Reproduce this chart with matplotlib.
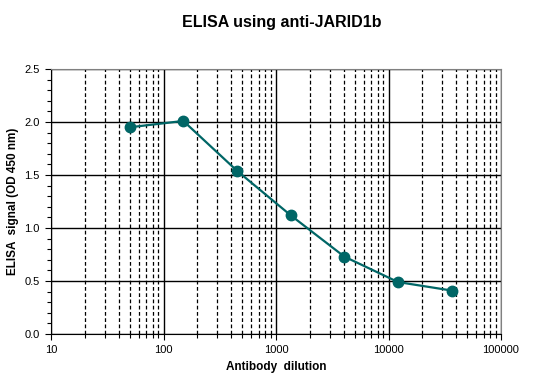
import numpy as np
import matplotlib
matplotlib.use('Agg')
import matplotlib.pyplot as plt
from matplotlib.ticker import LogLocator, FixedLocator, NullFormatter

plt.rcParams['font.family'] = ['Liberation Sans', 'DejaVu Sans']

# antibody dilution vs ELISA signal
dilution = [50, 150, 450, 1350, 4050, 12150, 36450]
signal = [1.95, 2.01, 1.54, 1.12, 0.73, 0.49, 0.41]
xticks = [10, 100, 1000, 10000, 100000]
xticklabels = ['10', '100', '1000', '10000', '100000']
yticks = [0.0, 0.5, 1.0, 1.5, 2.0, 2.5]

teal = '#006666'

fig = plt.figure(figsize=(5.35, 3.86), dpi=100)
ax = fig.add_axes([51 / 535, 1 - 334 / 386, 450 / 535, 265 / 386])

ax.plot(dilution, signal, '-o', color=teal, lw=1.6, ms=7.5, zorder=5)

ax.set_xscale('log')
ax.set_xlim(10, 100000)
ax.set_ylim(0, 2.5)

ax.xaxis.set_major_locator(FixedLocator(xticks))
ax.set_xticklabels(xticklabels)
ax.xaxis.set_minor_locator(LogLocator(base=10, subs=np.arange(2, 10)))
ax.xaxis.set_minor_formatter(NullFormatter())
ax.set_yticks(yticks)
ax.set_yticklabels([f'{v:.1f}' for v in yticks])
ax.yaxis.set_minor_locator(FixedLocator(np.arange(0, 2.51, 0.1)))

ax.grid(True, which='major', color='black', lw=1.0)
ax.grid(True, which='minor', axis='x', color='black', lw=0.9, ls=(0, (3, 2)))

ax.tick_params(which='both', direction='out', labelsize=8, color='black', width=0.8)
ax.tick_params(which='major', length=4, pad=4)
ax.tick_params(which='minor', length=3)

for s in ['top', 'right']:
    ax.spines[s].set_color('#808080')
for s in ['left', 'bottom']:
    ax.spines[s].set_color('black')

ax.set_xlabel('Antibody  dilution', fontsize=8.5, fontweight='bold', labelpad=4)
ax.set_ylabel('ELISA  signal (OD 450 nm)', fontsize=8.5, fontweight='bold', labelpad=4)
fig.text(282 / 535, 1 - 22 / 386, 'ELISA using anti-JARID1b', ha='center', va='center',
         fontsize=11.5, fontweight='bold')

fig.savefig('out.png', dpi=100)
